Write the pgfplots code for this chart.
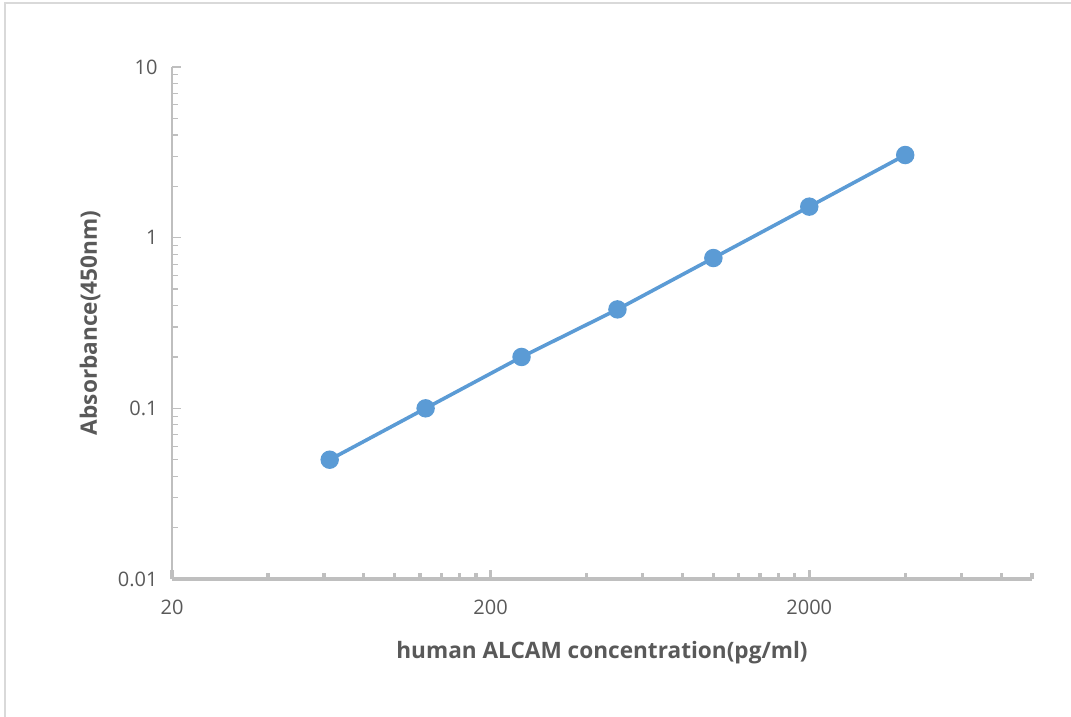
\documentclass[border=0pt]{standalone}
\usepackage{pgfplots}
\pgfplotsset{compat=1.18}
\usepackage{fontspec}
\setmainfont{Open Sans}
\definecolor{txt}{HTML}{595959}
\definecolor{axgray}{HTML}{BFBFBF}
\definecolor{frame}{HTML}{D9D9D9}
\definecolor{blue1}{HTML}{5B9BD5}
\begin{document}
\begin{tikzpicture}
\path[use as bounding box] (0,0) rectangle (535.5pt,358.5pt);
\draw[frame, line width=0.8pt] (2.5pt,0) -- (2.5pt,357pt) -- (535.5pt,357pt);
\begin{axis}[
  at={(86pt,69pt)}, anchor=south west,
  scale only axis, width=430pt, height=256pt,
  xmode=log, ymode=log,
  xmin=20, xmax=10000, ymin=0.01, ymax=10,
  axis lines=left,
  axis line style={-},
  x axis line style={axgray, line width=1.6pt},
  y axis line style={axgray, line width=0.6pt},
  xtick={20,200,2000}, xticklabels={20,200,2000},
  minor xtick={40,60,80,100,120,140,160,180,400,600,800,1000,1200,1400,1600,1800,4000,6000,8000,10000},
  ytick={0.01,0.1,1,10}, yticklabels={0.01,0.1,1,10},
  tick align=inside,
  x tick style={axgray, line width=1.6pt},
  y tick style={axgray, line width=0.6pt},
  major tick length=4.5pt, minor tick length=3pt,
  xticklabel style={inner sep=0pt, anchor=north, yshift=-10.5pt, font=\fontsize{10}{12}\selectfont, text=txt},
  yticklabel style={inner sep=0pt, anchor=east, xshift=-7pt, font=\fontsize{10}{12}\selectfont, text=txt},
  xlabel={human ALCAM concentration(pg/ml)},
  ylabel={Absorbance(450nm)},
  xlabel style={at={([yshift=-37pt]axis description cs:0.5,0)}, anchor=center, font=\bfseries\fontsize{11.3}{13}\selectfont, text=txt},
  ylabel style={at={([xshift=-41pt]axis description cs:0,0.5)}, anchor=center, rotate=0, font=\bfseries\fontsize{11.3}{13}\selectfont, text=txt},
  clip=false,
]
\addplot[blue1, line width=1.8pt, mark=*, mark size=3.7pt, mark options={fill=blue1, draw=blue1}]
coordinates {
(62.5,0.05) (125,0.1) (250,0.2) (500,0.38) (1000,0.76) (2000,1.52) (4000,3.05)
};
\end{axis}
\end{tikzpicture}
\end{document}
